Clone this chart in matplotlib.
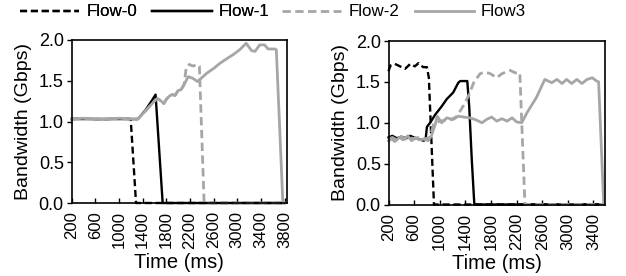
import matplotlib
matplotlib.use("Agg")
import matplotlib.pyplot as plt
from matplotlib.lines import Line2D

plt.rcParams['font.family'] = ['Liberation Sans', 'DejaVu Sans']

# ---------------- data ----------------
series_names = ["Flow-0", "Flow-1", "Flow-2", "Flow3"]

# Left panel
left_ticks = [200, 600, 1000, 1400, 1800, 2200, 2600, 3000, 3400, 3800]
L0_x = [200, 400, 600, 800, 1000, 1200, 1290, 3800]
L0_y = [1.03, 1.04, 1.03, 1.03, 1.04, 1.03, 0.00, 0.00]
L1_x = [200, 600, 1000, 1320, 1450, 1560, 1620, 1740, 3800]
L1_y = [1.03, 1.03, 1.03, 1.03, 1.14, 1.26, 1.33, 0.00, 0.00]
L2_x = [200, 400, 600, 800, 1000, 1200, 1320, 1450, 1600, 1650, 1700, 1760, 1800, 1850,
        1900, 1950, 2000, 2050, 2100, 2140, 2190, 2250, 2330, 2360, 2440, 3800]
L2_y = [1.03, 1.04, 1.03, 1.03, 1.04, 1.03, 1.03, 1.13, 1.25, 1.28, 1.26, 1.22, 1.27, 1.31,
        1.33, 1.32, 1.38, 1.39, 1.45, 1.67, 1.70, 1.68, 1.70, 1.68, 0.00, 0.00]
L3_x = [200, 400, 600, 800, 1000, 1200, 1320, 1450, 1600, 1650, 1700, 1760, 1800, 1850,
        1900, 1950, 2000, 2050, 2100, 2170, 2250, 2330, 2420, 2480, 2600, 2700, 2800,
        2930, 3040, 3150, 3240, 3300, 3380, 3460, 3520, 3640, 3660, 3770, 3800]
L3_y = [1.03, 1.04, 1.03, 1.03, 1.04, 1.03, 1.03, 1.13, 1.25, 1.28, 1.26, 1.22, 1.27, 1.31,
        1.33, 1.32, 1.38, 1.39, 1.45, 1.55, 1.53, 1.49, 1.55, 1.59, 1.65, 1.71, 1.76,
        1.82, 1.88, 1.96, 1.87, 1.86, 1.94, 1.94, 1.89, 1.89, 1.88, 0.00, 0.00]

# Right panel
right_ticks = [200, 600, 1000, 1400, 1800, 2200, 2600, 3000, 3400]
R0_x = [200, 230, 300, 380, 460, 540, 610, 670, 740, 800, 830, 910, 3560]
R0_y = [1.63, 1.70, 1.72, 1.69, 1.66, 1.72, 1.69, 1.73, 1.68, 1.68, 1.55, 0.00, 0.00]
R1_x = [200, 260, 330, 400, 470, 540, 600, 670, 750, 780, 800, 850, 930, 1030, 1110,
        1210, 1290, 1320, 1430, 1460, 1500, 1540, 3560]
R1_y = [0.82, 0.84, 0.81, 0.83, 0.81, 0.84, 0.82, 0.80, 0.78, 0.80, 0.95, 1.00, 1.10, 1.20, 1.29,
        1.37, 1.49, 1.51, 1.51, 1.20, 0.55, 0.00, 0.00]
R2_x = [200, 260, 330, 400, 470, 540, 600, 670, 750, 850, 900, 1000, 1100, 1160, 1270, 1370,
        1450, 1530, 1630, 1710, 1790, 1890, 1970, 2100, 2180, 2250, 2330, 3560]
R2_y = [0.80, 0.82, 0.79, 0.83, 0.80, 0.82, 0.80, 0.82, 0.80, 0.82, 0.98, 1.02, 1.03, 1.03, 1.08, 1.21,
        1.33, 1.49, 1.60, 1.62, 1.60, 1.55, 1.60, 1.64, 1.61, 1.61, 0.00, 0.00]
R3_x = [200, 250, 300, 370, 430, 500, 560, 620, 680, 750, 820, 870, 930, 960, 1030, 1110, 1210,
        1290, 1370, 1470, 1550, 1660, 1730, 1810, 1890, 1970, 2050, 2130, 2200, 2280, 2360,
        2510, 2640, 2750, 2830, 2910, 2980, 3060, 3140, 3220, 3300, 3380, 3450, 3480, 3560]
R3_y = [0.78, 0.80, 0.77, 0.82, 0.79, 0.84, 0.78, 0.82, 0.79, 0.80, 0.78, 0.84, 0.98, 1.08, 1.00, 1.06, 1.04,
        1.08, 1.07, 1.06, 1.04, 1.00, 1.04, 1.07, 1.02, 1.05, 1.02, 1.06, 1.01, 1.00, 1.12,
        1.31, 1.53, 1.49, 1.53, 1.48, 1.53, 1.48, 1.53, 1.48, 1.53, 1.55, 1.51, 1.50, 0.00]

# ---------------- style ----------------
GRAY = "#A6A6A6"
styles = [
    dict(color="black", lw=1.7, ls=(0, (3, 1.6))),
    dict(color="black", lw=1.7, ls="-"),
    dict(color=GRAY, lw=2.0, ls=(0, (3, 1.6))),
    dict(color=GRAY, lw=2.0, ls="-"),
]

W, H = 626, 276
fig = plt.figure(figsize=(W / 100, H / 100), dpi=100)

def px_axes(l, t, r, b):
    return fig.add_axes([l / W, 1 - b / H, (r - l) / W, (b - t) / H])

axL = px_axes(71.5, 40, 287, 203)
axR = px_axes(388.5, 41, 605, 204.5)

left_data = [(L0_x, L0_y), (L1_x, L1_y), (L2_x, L2_y), (L3_x, L3_y)]
right_data = [(R0_x, R0_y), (R1_x, R1_y), (R2_x, R2_y), (R3_x, R3_y)]

for ax, data, ticks, xmax in [(axL, left_data, left_ticks, 3840),
                              (axR, right_data, right_ticks, 3580)]:
    for (x, y), st in zip(data, styles):
        ax.plot(x, y, color=st["color"], lw=st["lw"], linestyle=st["ls"],
                solid_joinstyle="round", clip_on=False)
    ax.set_xlim(200, xmax)
    ax.set_ylim(0, 2.0)
    ax.set_xticks(ticks)
    ax.set_xticklabels([str(t) for t in ticks], rotation=90)
    ax.set_yticks([0, 0.5, 1.0, 1.5, 2.0])
    ax.set_yticklabels(["0.0", "0.5", "1.0", "1.5", "2.0"])
    ax.tick_params(axis="x", direction="in", length=3.5, width=1.0, labelsize=12, pad=6)
    ax.tick_params(axis="y", direction="out", length=3.5, width=1.0, labelsize=13, pad=2)
    for sp in ax.spines.values():
        sp.set_linewidth(1.2)
        sp.set_color("black")
    ax.set_xlabel("Time (ms)", fontsize=14.5, labelpad=3)
    ax.set_ylabel("Bandwidth (Gbps)", fontsize=14, labelpad=5)

handles = [Line2D([], [], color=st["color"], lw=st["lw"], linestyle=st["ls"]) for st in styles]
leg_kw = dict(loc="center left", ncol=2, frameon=False, fontsize=12.2, handlelength=3.5,
              handletextpad=0.42, columnspacing=0.9, borderpad=0, borderaxespad=0)
leg1 = fig.legend(handles[:2], series_names[:2], bbox_to_anchor=(20 / W, 1 - 12 / H), **leg_kw)
fig.add_artist(leg1)
fig.legend(handles[2:], series_names[2:], bbox_to_anchor=(282 / W, 1 - 12 / H), **leg_kw)

fig.savefig("out.png", dpi=100)
